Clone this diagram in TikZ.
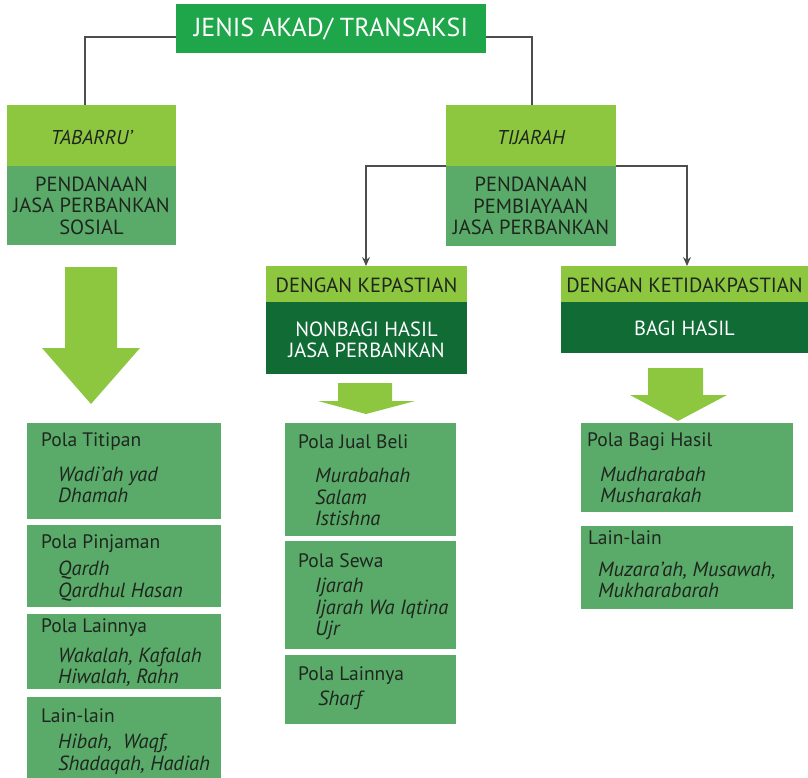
\documentclass[tikz,border=0pt]{standalone}
\usepackage{fontspec}
\setmainfont{PT Sans}
\usetikzlibrary{arrows.meta,calc}

\definecolor{titlegreen}{HTML}{1FA54A}
\definecolor{lightgreen}{HTML}{8DC63F}
\definecolor{midgreen}{HTML}{5AAB69}
\definecolor{darkgreen}{HTML}{106B35}
\definecolor{inkdark}{HTML}{1F261F}
\definecolor{linegray}{HTML}{4D4D4D}

\tikzset{
  panel/.style={rectangle, inner sep=0pt, outer sep=0pt, anchor=north west, draw=none},
  capstext/.style={font=\fontsize{20.5}{21.5}\selectfont, text=inkdark, align=center, inner sep=0pt},
  headtxt/.style={font=\fontsize{19.5}{21.5}\selectfont, text=inkdark, anchor=west, inner sep=0pt},
  itemtxt/.style={font=\fontsize{20.5}{21.5}\selectfont\itshape, text=inkdark, anchor=west, inner sep=0pt, align=left},
  conn/.style={draw=linegray, line width=1.4pt},
  connarrow/.style={conn, -{Stealth[length=9pt, width=8pt, inset=3pt]}},
  bigarrow/.style={fill=lightgreen, draw=none}
}

\begin{document}
\begin{tikzpicture}[x=1pt, y=-1pt]
\useasboundingbox[fill=white] (0,0) rectangle (808,778);

% --- top title ---
\node[panel, fill=titlegreen, minimum width=310pt, minimum height=49pt] (title) at (176,4) {};
\node[font=\fontsize{26}{28}\selectfont, text=white, inner sep=0pt] (titletxt) at ($(title.center)+(0,1)$) {JENIS AKAD/ TRANSAKSI};

% --- Tabarru' ---
\node[panel, fill=lightgreen, minimum width=169pt, minimum height=61pt] (tabtop) at (7,105) {};
\node[panel, fill=midgreen, minimum width=169pt, minimum height=79pt] (tabbot) at (7,166) {};
\node[capstext, font=\fontsize{20}{21}\selectfont\itshape] (tabtxt) at ($(tabtop.center)+(0,2)$) {TABARRU’};
\node[capstext] (tabsub) at ($(tabbot.center)+(0,0)$) {PENDANAAN\\JASA PERBANKAN\\SOSIAL};

% --- Tijarah ---
\node[panel, fill=lightgreen, minimum width=170pt, minimum height=61pt] (tijtop) at (446,105) {};
\node[panel, fill=midgreen, minimum width=170pt, minimum height=80pt] (tijbot) at (446,166) {};
\node[capstext, font=\fontsize{20}{21}\selectfont\itshape] (tijtxt) at ($(tijtop.center)+(0,2)$) {TIJARAH};
\node[capstext] (tijsub) at (tijbot.center) {PENDANAAN\\PEMBIAYAAN\\JASA PERBANKAN};

% --- Dengan kepastian ---
\node[panel, fill=lightgreen, minimum width=201pt, minimum height=36pt] (kepTop) at (266,266) {};
\node[panel, fill=darkgreen, minimum width=201pt, minimum height=72pt] (kepBot) at (266,302) {};
\node[capstext] (keptxt) at ($(kepTop.center)+(0,1)$) {DENGAN KEPASTIAN};
\node[capstext, text=white] (kepsub) at ($(kepBot.center)+(0,2)$) {NONBAGI HASIL\\JASA PERBANKAN};

% --- Dengan ketidakpastian ---
\node[panel, fill=lightgreen, minimum width=247pt, minimum height=36pt] (ketTop) at (561,266) {};
\node[panel, fill=darkgreen, minimum width=247pt, minimum height=51pt] (ketBot) at (561,302) {};
\node[capstext] (kettxt) at ($(ketTop.center)+(0,1)$) {DENGAN KETIDAKPASTIAN};
\node[capstext, text=white] (ketsub) at ($(ketBot.center)+(0,1)$) {BAGI HASIL};

% --- connectors ---
\coordinate (tabjoin) at (85,37);
\coordinate (tijjoin) at (532,37);
\draw[conn] (title.west |- tabjoin) -- (tabjoin) -- (tabjoin |- tabtop.north);
\draw[conn] (title.east |- tijjoin) -- (tijjoin) -- (tijjoin |- tijtop.north);
\coordinate (kepjoin) at (366,166);
\coordinate (ketjoin) at (687,166);
\draw[connarrow] (tijbot.north west) -- (kepjoin) -- (kepjoin |- kepTop.north);
\draw[connarrow] (tijbot.north east) -- (ketjoin) -- (ketjoin |- ketTop.north);

% --- block arrows ---
\fill[bigarrow] (65,267) -- (117,267) -- (117,348) -- (140,348) -- (91,404) -- (42,348) -- (65,348) -- cycle;
\fill[bigarrow] (338,383) -- (392,383) -- (392,401) -- (415,401) -- (366,414) -- (318,401) -- (338,401) -- cycle;
\fill[bigarrow] (648,368) -- (703,368) -- (703,395) -- (727,395) -- (678,421) -- (630,395) -- (648,395) -- cycle;

% --- Tabarru' list ---
\node[panel, fill=midgreen, minimum width=194pt, minimum height=96pt] (titipan) at (27,423) {};
\node[headtxt] (titipanH) at (41,442) {Pola Titipan};
\node[itemtxt] (titipanI) at (58,485) {Wadi’ah yad\\Dhamah};

\node[panel, fill=midgreen, minimum width=194pt, minimum height=82pt] (pinjaman) at (27,525) {};
\node[headtxt] (pinjamanH) at (41,544) {Pola Pinjaman};
\node[itemtxt] (pinjamanI) at (58,581) {Qardh\\Qardhul Hasan};

\node[panel, fill=midgreen, minimum width=194pt, minimum height=75pt] (lainnyaA) at (27,614) {};
\node[headtxt] (lainnyaAH) at (41,628) {Pola Lainnya};
\node[itemtxt] (lainnyaAI) at (58,667) {Wakalah, Kafalah\\Hiwalah, Rahn};

\node[panel, fill=midgreen, minimum width=194pt, minimum height=81pt] (lainA) at (27,697) {};
\node[headtxt] (lainAH) at (41,716) {Lain-lain};
\node[itemtxt] (lainAI) at (58,754) {Hibah,\ \ Waqf,\\Shadaqah, Hadiah};

% --- Kepastian list ---
\node[panel, fill=midgreen, minimum width=171pt, minimum height=113pt] (jualbeli) at (285,423) {};
\node[headtxt] (jualbeliH) at (298,442) {Pola Jual Beli};
\node[itemtxt] (jualbeliI) at (315,497) {Murabahah\\Salam\\Istishna};

\node[panel, fill=midgreen, minimum width=171pt, minimum height=108pt] (sewa) at (285,541) {};
\node[headtxt] (sewaH) at (298,561) {Pola Sewa};
\node[itemtxt] (sewaI) at (315,609) {Ijarah\\Ijarah Wa Iqtina\\Ujr};

\node[panel, fill=midgreen, minimum width=171pt, minimum height=69pt] (lainnyaB) at (285,655) {};
\node[headtxt] (lainnyaBH) at (298,676) {Pola Lainnya};
\node[itemtxt] (lainnyaBI) at (318,700) {Sharf};

% --- Ketidakpastian list ---
\node[panel, fill=midgreen, minimum width=212pt, minimum height=89pt] (bagihasil) at (581,423) {};
\node[headtxt] (bagihasilH) at (587,442) {Pola Bagi Hasil};
\node[itemtxt] (bagihasilI) at (600,485) {Mudharabah\\Musharakah};

\node[panel, fill=midgreen, minimum width=212pt, minimum height=83pt] (lainC) at (581,526) {};
\node[headtxt] (lainCH) at (588,538) {Lain-lain};
\node[itemtxt] (lainCI) at (598,580) {Muzara’ah, Musawah,\\Mukharabarah};
\end{tikzpicture}
\end{document}
